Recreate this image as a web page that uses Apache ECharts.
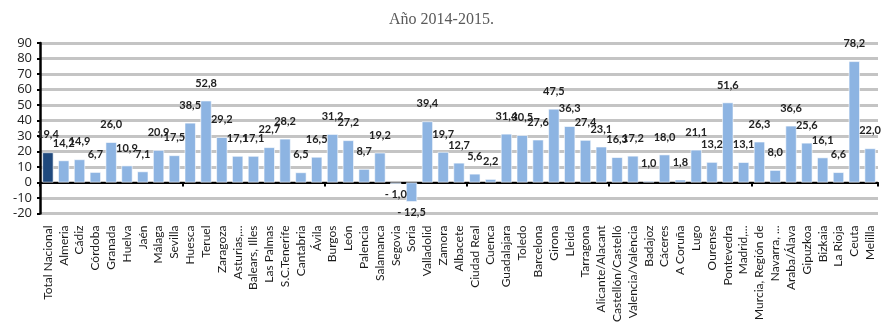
<!DOCTYPE html>
<html>
<head>
<meta charset="utf-8">
<script src="https://cdn.jsdelivr.net/npm/echarts@6/dist/echarts.min.js"></script>
<style>
  html, body { margin: 0; padding: 0; background: #fff; }
  #chart { width: 883px; height: 325px; }
</style>
</head>
<body>
<div id="chart"></div>
<script>
// Provinces (and national total) in display order
const categories = [
  'Total Nacional', 'Almeria', 'Cádiz', 'Córdoba', 'Granada', 'Huelva', 'Jaén', 'Málaga', 'Sevilla',
  'Huesca', 'Teruel', 'Zaragoza', 'Asturias,...', 'Balears, Illes', 'Las Palmas', 'S.C.Tenerife',
  'Cantabria', 'Ávila', 'Burgos', 'León', 'Palencia', 'Salamanca', 'Segovia', 'Soria', 'Valladolid',
  'Zamora', 'Albacete', 'Ciudad Real', 'Cuenca', 'Guadalajara', 'Toledo', 'Barcelona', 'Girona',
  'Lleida', 'Tarragona', 'Alicante/Alacant', 'Castellón/Castelló', 'Valencia/València', 'Badajoz',
  'Cáceres', 'A Coruña', 'Lugo', 'Ourense', 'Pontevedra', 'Madrid,...', 'Murcia, Región de',
  'Navarra, ...', 'Araba/Álava', 'Gipuzkoa', 'Bizkaia', 'La Rioja', 'Ceuta', 'Melilla'
];

// Percentage change per province
const values = [
  19.4, 14.2, 14.9, 6.7, 26.0, 10.9, 7.1, 20.9, 17.5,
  38.5, 52.8, 29.2, 17.1, 17.1, 22.7, 28.2,
  6.5, 16.5, 31.2, 27.2, 8.7, 19.2, -1.0, -12.5, 39.4,
  19.7, 12.7, 5.6, 2.2, 31.4, 30.5, 27.6, 47.5,
  36.3, 27.4, 23.1, 16.3, 17.2, 1.0,
  18.0, 1.8, 21.1, 13.2, 51.6, 13.1, 26.3,
  8.0, 36.6, 25.6, 16.1, 6.6, 78.2, 22.0
];

// Value axis range and step
const yMin = -20;
const yMax = 90;
const yStep = 10;

const highlightName = 'Total Nacional';
const colorMain = '#8db4e2';
const colorHighlight = '#1f497d';

function fmt(v) {
  const s = Math.abs(v).toFixed(1).replace('.', ',');
  return v < 0 ? '- ' + s : s;
}

const seriesData = values.map((v, i) => ({
  value: v,
  itemStyle: { color: categories[i] === highlightName ? colorHighlight : colorMain },
  label: v < 0 ? { position: 'bottom', distance: 5 } : undefined
}));

const chart = echarts.init(document.getElementById('chart'), null, { renderer: 'canvas' });

chart.setOption({
  animation: false,
  title: {
    text: 'Año 2014-2015.',
    left: 'center',
    top: 7,
    textStyle: {
      fontFamily: 'Liberation Serif',
      fontWeight: 'normal',
      fontSize: 16,
      color: '#595959'
    }
  },
  grid: { left: 40, right: 5, top: 43, bottom: 107, containLabel: false },
  xAxis: [
    {
      type: 'category',
      data: categories,
      position: 'bottom',
      axisLine: { show: false, onZero: false },
      axisTick: { show: false },
      axisLabel: {
        rotate: 90,
        interval: 0,
        margin: 12,
        fontFamily: 'Lato',
        fontSize: 12,
        color: '#1a1a1a'
      },
      splitLine: { show: false }
    },
    {
      type: 'category',
      data: categories,
      position: 'top',
      axisLine: { show: true, onZero: true, lineStyle: { color: '#000', width: 2 } },
      axisTick: { show: true, inside: true, length: 4, lineStyle: { color: '#000', width: 2 } },
      axisLabel: { show: false },
      splitLine: { show: false }
    }
  ],
  yAxis: {
    type: 'value',
    min: yMin,
    max: yMax,
    interval: yStep,
    axisLine: { show: true, lineStyle: { color: '#000', width: 2.5 } },
    axisTick: { show: true, length: 3, lineStyle: { color: '#000', width: 2 } },
    axisLabel: {
      fontFamily: 'Open Sans',
      fontSize: 13,
      color: '#222',
      margin: 8
    },
    splitLine: { show: true, lineStyle: { color: '#c4c4c4', width: 3 } }
  },
  series: [
    {
      type: 'bar',
      xAxisIndex: 0,
      data: seriesData,
      barCategoryGap: '30%',
      itemStyle: { borderColor: '#ffffff', borderWidth: 0.6 },
      label: {
        show: true,
        position: 'top',
        distance: 12,
        formatter: p => fmt(p.value),
        fontFamily: 'Lato',
        fontWeight: 'bold',
        fontSize: 11,
        color: '#222'
      }
    }
  ]
});
</script>
</body>
</html>
